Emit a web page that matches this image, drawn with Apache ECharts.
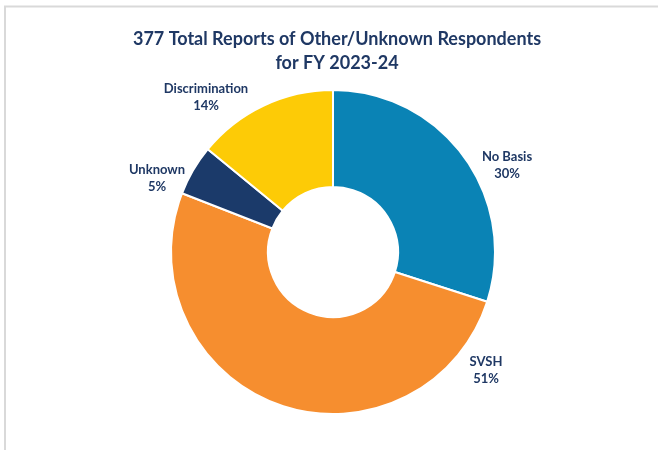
<!DOCTYPE html>
<html>
<head>
<meta charset="utf-8">
<style>
  html, body { margin: 0; padding: 0; background: #fff; }
  #chart { width: 658px; height: 450px; }
</style>
<script src="https://cdn.jsdelivr.net/npm/echarts@6/dist/echarts.min.js"></script>
</head>
<body>
<div id="chart"></div>
<script>
// Report counts by basis, FY 2023-24 (total 377)
const categories = ['No Basis', 'SVSH', 'Unknown', 'Discrimination'];
const reportCounts = [113, 192, 19, 53];

// Slice colours, in category order
const sliceColors = ['#0A83B5', '#F68E2F', '#1B3A6A', '#FDCB06'];

// Label anchor points (centre of each two-line label)
const labelAnchors = [[507, 165], [486, 370], [157, 178], [206, 97]];

const navy = '#1F3864';

const chart = echarts.init(document.getElementById('chart'), null, { renderer: 'canvas' });

chart.setOption({
  backgroundColor: '#ffffff',
  animation: false,
  title: {
    text: '377 Total Reports of Other/Unknown Respondents\nfor FY 2023-24',
    left: 332,
    textAlign: 'center',
    top: 22,
    textStyle: {
      fontFamily: 'Lato',
      fontWeight: 'bold',
      fontSize: 18,
      lineHeight: 24,
      color: navy
    }
  },
  graphic: [{
    type: 'polyline',
    shape: { points: [[5, 450], [5, 6.5], [658, 6.5]] },
    style: { stroke: '#d9d9d9', lineWidth: 2, fill: null },
    silent: true
  }],
  series: [{
    type: 'pie',
    center: [333, 252],
    radius: [65, 162],
    startAngle: 90,
    clockwise: true,
    avoidLabelOverlap: false,
    itemStyle: { borderColor: '#ffffff', borderWidth: 2 },
    label: {
      show: true,
      position: 'outside',
      formatter: p => p.name + '\n' + Math.round(p.percent) + '%',
      fontFamily: 'Lato',
      fontWeight: 'bold',
      fontSize: 13,
      lineHeight: 17,
      color: navy,
      align: 'center'
    },
    labelLine: { show: false },
    labelLayout: p => ({
      x: labelAnchors[p.dataIndex][0],
      y: labelAnchors[p.dataIndex][1],
      align: 'center',
      verticalAlign: 'middle'
    }),
    data: categories.map((name, i) => ({
      name: name,
      value: reportCounts[i],
      itemStyle: { color: sliceColors[i] }
    }))
  }]
});
</script>
</body>
</html>
